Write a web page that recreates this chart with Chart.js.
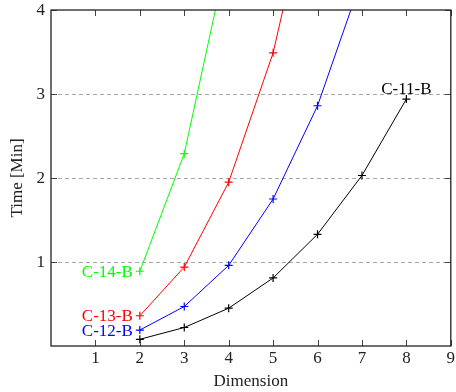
<!DOCTYPE html>
<html>
<head>
<meta charset="utf-8">
<script src="https://cdn.jsdelivr.net/npm/chart.js@4.4.0/dist/chart.umd.min.js"></script>
<style>
  html, body { margin: 0; padding: 0; background: #fff; }
  #wrap { width: 456px; height: 392px; }
</style>
</head>
<body>
<div id="wrap"><canvas id="myGraph" width="456" height="392"></canvas></div>
<script>
// ----- data -----
var dims = [2, 3, 4, 5, 6, 7, 8]
var c11 = [0.08, 0.22, 0.45, 0.81, 1.33, 2.03, 2.94]
var c12 = [0.19, 0.47, 0.96, 1.75, 2.86, 4.38]
var c13 = [0.36, 0.94, 1.95, 3.49, 5.8]
var c14 = [0.89, 2.29, 4.73]
var seriesNames = ['C-11-B', 'C-12-B', 'C-13-B', 'C-14-B']
var seriesColors = ['#000000', '#0000ff', '#ff0000', '#00ff00']
var xTicks = [1, 2, 3, 4, 5, 6, 7, 8, 9]
var yTicks = [1, 2, 3, 4]
var gridLines = [1, 2, 3]

var FONT = '"Liberation Serif", "Times New Roman", serif'

function pts(vals) {
  return vals.map((v, i) => ({ x: dims[i], y: v }))
}

var allSeries = [c11, c12, c13, c14].map((vals, i) => ({
  label: seriesNames[i],
  data: pts(vals),
  borderColor: seriesColors[i],
  backgroundColor: seriesColors[i],
  borderWidth: 1,
  pointStyle: 'cross',
  pointRadius: 4,
  pointBorderWidth: 1.2,
  tension: 0,
  clip: 0
}))

// ----- pgfplots-like axis decorations -----
var axisPlugin = {
  id: 'axisPlugin',
  beforeDatasetsDraw(chart) {
    var ctx = chart.ctx, a = chart.chartArea, ys = chart.scales.y
    ctx.save()
    ctx.strokeStyle = '#a8a8a8'
    ctx.lineWidth = 1
    ctx.setLineDash([4, 3])
    gridLines.forEach(v => {
      var py = Math.round(ys.getPixelForValue(v)) + 0.5
      ctx.beginPath()
      ctx.moveTo(a.left, py)
      ctx.lineTo(a.right, py)
      ctx.stroke()
    })
    ctx.restore()
  },
  afterDatasetsDraw(chart) {
    var ctx = chart.ctx, a = chart.chartArea
    var xs = chart.scales.x, ys = chart.scales.y
    ctx.save()
    ctx.strokeStyle = '#444'
    ctx.lineWidth = 1
    xTicks.forEach(v => {
      var px = Math.round(xs.getPixelForValue(v)) + 0.5
      ctx.beginPath()
      ctx.moveTo(px, a.bottom); ctx.lineTo(px, a.bottom - 6)
      ctx.moveTo(px, a.top); ctx.lineTo(px, a.top + 6)
      ctx.stroke()
    })
    yTicks.forEach(v => {
      var py = Math.round(ys.getPixelForValue(v)) + 0.5
      ctx.beginPath()
      ctx.moveTo(a.left, py); ctx.lineTo(a.left + 6, py)
      ctx.moveTo(a.right, py); ctx.lineTo(a.right - 6, py)
      ctx.stroke()
    })
    ctx.strokeStyle = '#222'
    ctx.lineWidth = 1.3
    ctx.strokeRect(a.left, a.top, a.right - a.left, a.bottom - a.top)

    // tick labels
    ctx.font = '17px ' + FONT
    ctx.fillStyle = '#222'
    ctx.textAlign = 'center'
    ctx.textBaseline = 'alphabetic'
    xTicks.forEach(v => {
      ctx.fillText(String(v), xs.getPixelForValue(v), a.bottom + 17)
    })
    ctx.textAlign = 'right'
    ctx.textBaseline = 'middle'
    yTicks.forEach(v => {
      ctx.fillText(String(v), a.left - 6, ys.getPixelForValue(v) + 1)
    })

    // series labels
    chart.data.datasets.forEach((ds, i) => {
      ctx.fillStyle = ds.borderColor
      if (i === 0) {
        var last = ds.data[ds.data.length - 1]
        ctx.textAlign = 'center'
        ctx.textBaseline = 'alphabetic'
        ctx.fillText(ds.label, xs.getPixelForValue(last.x), ys.getPixelForValue(last.y) - 5)
      } else {
        var first = ds.data[0]
        ctx.textAlign = 'right'
        ctx.textBaseline = 'middle'
        ctx.fillText(ds.label, xs.getPixelForValue(first.x) - 7, ys.getPixelForValue(first.y) + 1)
      }
    })

    // axis titles
    ctx.fillStyle = '#222'
    ctx.textAlign = 'center'
    ctx.textBaseline = 'alphabetic'
    ctx.fillText('Dimension', (a.left + a.right) / 2, 386)
    ctx.translate(22, (a.top + a.bottom) / 2)
    ctx.rotate(-Math.PI / 2)
    ctx.fillText('Time [Min]', 0, 0)
    ctx.restore()
  }
}

var myChart = new Chart(document.getElementById('myGraph'), {
  type: 'line',
  data: { datasets: allSeries },
  options: {
    responsive: false,
    animation: false,
    layout: { padding: { top: 10, right: 3, left: 0, bottom: 0 } },
    plugins: { legend: { display: false }, tooltip: { enabled: false } },
    scales: {
      x: {
        type: 'linear',
        min: 0, max: 9,
        afterFit: s => { s.height = 46 },
        grid: { display: false, drawTicks: false },
        border: { display: false },
        ticks: { display: false }
      },
      y: {
        min: 0, max: 4,
        afterFit: s => { s.width = 51 },
        grid: { display: false, drawTicks: false },
        border: { display: false },
        ticks: { display: false }
      }
    }
  },
  plugins: [axisPlugin]
})
</script>
</body>
</html>
